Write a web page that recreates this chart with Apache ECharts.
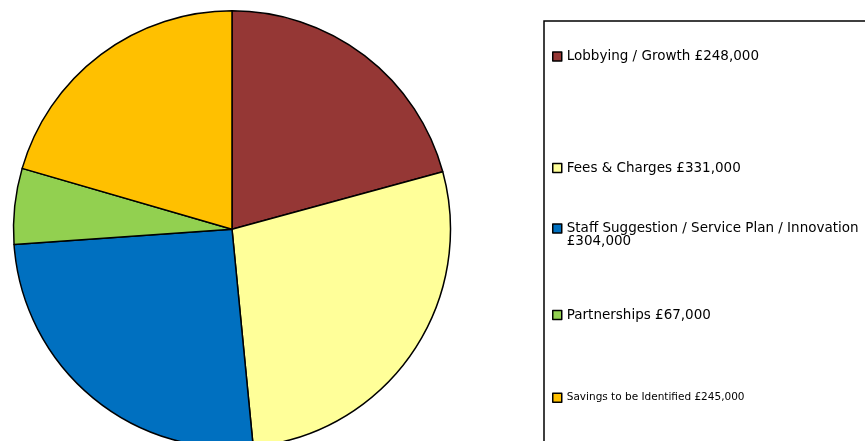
<!DOCTYPE html>
<html>
<head>
<meta charset="utf-8">
<script src="https://cdn.jsdelivr.net/npm/echarts@6/dist/echarts.min.js"></script>
<style>html,body{margin:0;padding:0;background:#fff;}#c{width:865px;height:441px;}</style>
</head>
<body>
<div id="c"></div>
<script>
var categories = [
  'Lobbying / Growth £248,000',
  'Fees & Charges £331,000',
  'Staff Suggestion / Service Plan / Innovation\n£304,000',
  'Partnerships £67,000',
  'Savings to be Identified £245,000'
];
var values = [248000, 331000, 304000, 67000, 245000];
var colors = ['#953735', '#FFFF99', '#0070C0', '#92D050', '#FFC000'];

var chart = echarts.init(document.getElementById('c'), null, {renderer: 'canvas'});

var legendTops = [49.5, 161, 208.5, 308, 390.7];
var legendFont = [13.5, 13.5, 13.5, 13.5, 10.5];
var legends = categories.map(function (name, i) {
  var multi = name.indexOf('\n') >= 0;
  return {
    data: [name],
    left: 552,
    top: legendTops[i],
    padding: 0,
    itemWidth: 9,
    itemHeight: 9,
    itemGap: 0,
    icon: 'rect',
    selectedMode: false,
    formatter: function (n) { return multi ? ' \n' + n : n; },
    textStyle: {
      fontFamily: 'DejaVu Sans',
      fontSize: legendFont[i],
      color: '#000',
      lineHeight: multi ? 13 : 14
    },
    itemStyle: {borderColor: '#000', borderWidth: 1.5}
  };
});

chart.setOption({
  animation: false,
  backgroundColor: '#fff',
  legend: legends,
  graphic: [{
    type: 'rect',
    z: -10,
    shape: {x: 544, y: 21, width: 400, height: 500},
    style: {fill: 'none', stroke: '#000', lineWidth: 1.5}
  }],
  series: [{
    type: 'pie',
    center: [232, 229.3],
    radius: 218.5,
    startAngle: 90,
    clockwise: true,
    label: {show: false},
    labelLine: {show: false},
    emphasis: {disabled: true},
    itemStyle: {borderColor: '#000', borderWidth: 1.5},
    data: categories.map(function (name, i) {
      return {name: name, value: values[i], itemStyle: {color: colors[i]}};
    })
  }]
});
</script>
</body>
</html>
